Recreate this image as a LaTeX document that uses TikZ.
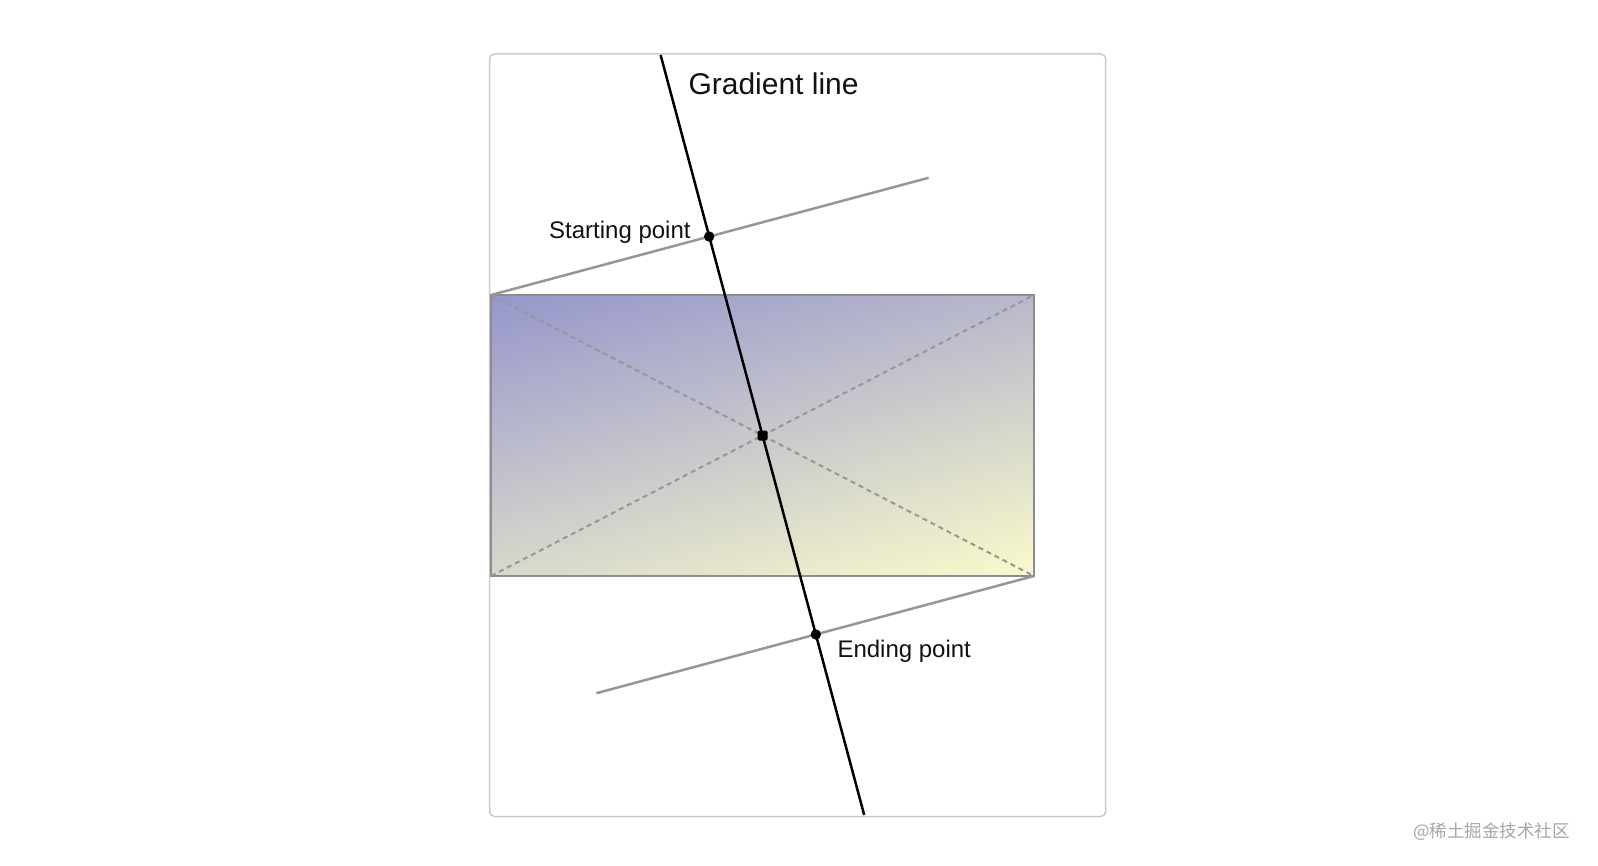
\documentclass[tikz,border=0pt]{standalone}
\usepackage{fontspec}
\usetikzlibrary{calc}
\setmainfont{Liberation Sans}
\newfontfamily\cjkfont{Noto Sans CJK SC}
\definecolor{framegray}{RGB}{200,200,208}
\definecolor{rectgray}{RGB}{140,140,140}
\definecolor{linegray}{RGB}{150,150,150}
\definecolor{gradstart}{RGB}{150,150,204}
\definecolor{gradend}{RGB}{250,250,204}
\definecolor{inkblack}{RGB}{17,17,17}
\pgfdeclareverticalshading{gradfill}{840pt}{color(0pt)=(gradend); color(411.96pt)=(gradstart)}
\tikzset{
  framebox/.style={draw=framegray, line width=1.5pt, rounded corners=5pt},
  rectbox/.style={draw=rectgray, line width=2pt},
  diagline/.style={draw=linegray, line width=2pt, dash pattern=on 5pt off 4pt},
  perpline/.style={draw=linegray, line width=2.5pt},
  gradline/.style={draw=black, line width=2.5pt},
  dotmark/.style={fill=black},
  bigtext/.style={inner sep=0pt, anchor=base west, font=\fontsize{30}{36}\selectfont, text=inkblack},
  labeltext/.style={inner sep=0pt, anchor=base west, font=\fontsize{24}{29}\selectfont, text=inkblack},
  marktext/.style={inner sep=0pt, anchor=base west, font=\cjkfont\fontsize{17.5}{21}\selectfont, text=black!35}
}
\begin{document}
\begin{tikzpicture}[x=1pt,y=1pt]
\useasboundingbox (0,0) rectangle (1598,-866);
% named points
\coordinate (TL) at (491,-295);
\coordinate (TR) at (1034,-295);
\coordinate (BL) at (491,-576);
\coordinate (BR) at (1034,-576);
\coordinate (C) at (762.5,-435.5);
\coordinate (S) at (709.19,-236.53);
\coordinate (E) at (815.81,-634.47);
\coordinate (G1) at (660.6,-55);
\coordinate (G2) at (864.2,-815);
\coordinate (P1) at (928.6,-177.8);
\coordinate (P2) at (596.4,-693.2);
% frame
\draw[framebox] (489.5,-54) rectangle (1105.7,-816.5);
% gradient fill
\begin{scope}
  \clip (TL) rectangle (BR);
  \begin{scope}[shift={(C)}, rotate=15]
    \pgflowlevelsynccm
    \pgftext{\pgfuseshading{gradfill}}
  \end{scope}
\end{scope}
\draw[rectbox] (TL) rectangle (BR);
% diagonals
\draw[diagline] (TL) -- (BR);
\draw[diagline] (BL) -- (TR);
% perpendicular lines
\draw[perpline] (TL) -- (P1);
\draw[perpline] (BR) -- (P2);
% gradient line
\draw[gradline] (G1) -- (G2);
% points
\fill[dotmark] (S) circle (5.2);
\fill[dotmark] (E) circle (5.2);
\fill[dotmark, rounded corners=1.5pt] ($(C)+(-5,-5)$) rectangle ($(C)+(5,5)$);
% labels
\node[bigtext] (title) at (688.3,-94.3) {Gradient line};
\node[labeltext] (startlbl) at (549,-238.7) {Starting point};
\node[labeltext] (endlbl) at (837.3,-657.3) {Ending point};
\node[marktext] (wm) at (1413,-837) {@稀土掘金技术社区};
\end{tikzpicture}
\end{document}
